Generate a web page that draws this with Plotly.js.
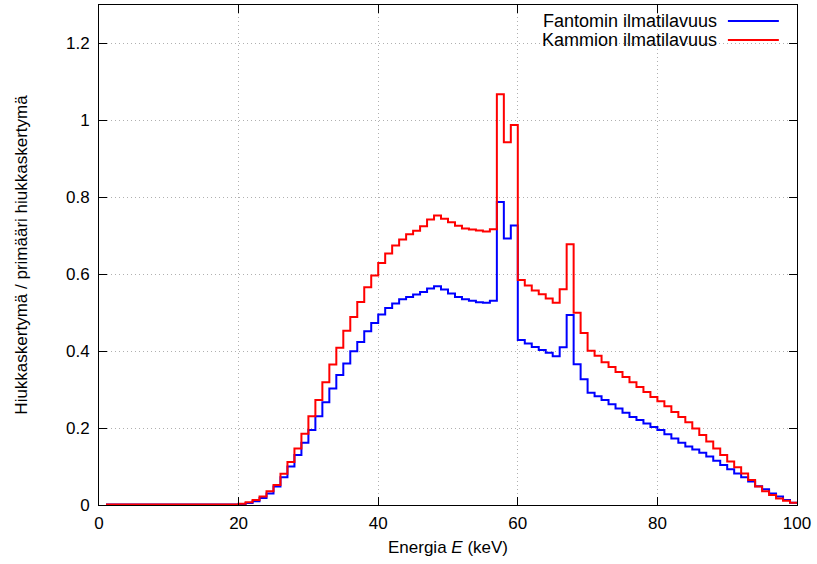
<!DOCTYPE html>
<html>
<head>
<meta charset="utf-8">
<script src="https://cdn.plot.ly/plotly-3.0.1.min.js"></script>
<style>html,body{margin:0;padding:0;background:#fff}#chart{width:817px;height:564px}</style>
</head>
<body>
<div id="chart"></div>
<script>
// Bin left edges (keV), bins are 1 keV wide, from 1 to 100 keV
const binStart = [];
for (let k = 1; k <= 99; k++) binStart.push(k);
const binEnd = 100;

const seriesNames = ["Fantomin ilmatilavuus", "Kammion ilmatilavuus"];

// Phantom air volume (blue), values for bins 1..99
const fantomin = [
  0.001,0.001,0.001,0.001,0.001,0.001,0.001,0.001,0.001,0.001,
  0.001,0.001,0.001,0.001,0.001,0.001,0.001,0.001,0.001,
  0.002,0.005,0.010,0.018,0.030,0.048,0.072,0.100,0.130,0.162,
  0.195,0.231,0.267,0.303,0.338,0.368,0.400,0.424,0.452,0.473,
  0.495,0.512,0.524,0.535,0.541,0.547,0.554,0.563,0.569,0.560,
  0.550,0.541,0.535,0.531,0.527,0.526,0.531,0.788,0.693,0.727,
  0.429,0.420,0.411,0.403,0.396,0.387,0.410,0.494,0.366,0.327,
  0.292,0.283,0.273,0.262,0.251,0.240,0.229,0.221,0.212,0.203,
  0.195,0.184,0.173,0.162,0.152,0.144,0.136,0.126,0.115,0.104,
  0.093,0.082,0.072,0.061,0.049,0.041,0.030,0.022,0.013,0.006
];

// Chamber air volume (red), values for bins 1..99
const kammion = [
  0.001,0.001,0.001,0.001,0.001,0.001,0.001,0.001,0.001,0.001,
  0.001,0.001,0.001,0.001,0.001,0.001,0.001,0.001,0.001,
  0.003,0.007,0.013,0.022,0.036,0.052,0.081,0.112,0.147,0.185,
  0.231,0.273,0.319,0.365,0.409,0.453,0.489,0.528,0.566,0.597,
  0.629,0.654,0.675,0.690,0.704,0.713,0.725,0.742,0.753,0.744,
  0.735,0.726,0.719,0.716,0.714,0.711,0.717,1.068,0.943,0.988,
  0.585,0.571,0.558,0.548,0.537,0.526,0.561,0.678,0.500,0.447,
  0.401,0.388,0.371,0.359,0.346,0.333,0.319,0.307,0.294,0.281,
  0.270,0.257,0.242,0.229,0.215,0.199,0.182,0.165,0.147,0.130,
  0.113,0.098,0.082,0.065,0.048,0.036,0.026,0.017,0.011,0.006
];

const xTicks = [0, 20, 40, 60, 80, 100];
const yTicks = [0, 0.2, 0.4, 0.6, 0.8, 1, 1.2];
const yTickText = ["0", "0.2", "0.4", "0.6", "0.8", "1", "1.2"];

function stepTrace(vals, color, name) {
  const x = binStart.concat([binEnd]);
  const y = vals.concat([vals[vals.length - 1]]);
  return {x: x, y: y, type: "scatter", mode: "lines", name: name,
    line: {shape: "hv", color: color, width: 2}, showlegend: false};
}

const FONT = "Liberation Sans, Arial, Helvetica, sans-serif";
const axisCommon = {
  showline: true, mirror: "ticks", linecolor: "#000", linewidth: 1,
  ticks: "inside", ticklen: 8, tickcolor: "#000", tickwidth: 1,
  showgrid: true, gridcolor: "#b0b0b0", griddash: "1px,3px", gridwidth: 1,
  zeroline: false, tickfont: {family: FONT, size: 17, color: "#000"}
};

const layout = {
  width: 817, height: 564,
  margin: {l: 99, r: 20, t: 5, b: 59},
  paper_bgcolor: "#fff", plot_bgcolor: "#fff",
  font: {family: FONT, size: 17, color: "#000"},
  xaxis: Object.assign({}, axisCommon, {
    range: [0, 100], tickvals: xTicks, ticktext: xTicks.map(String),
    ticklabelstandoff: 3,
    title: {text: "Energia <i>E</i> (keV)", font: {family: FONT, size: 17}, standoff: 8}
  }),
  yaxis: Object.assign({}, axisCommon, {
    range: [0, 1.3], tickvals: yTicks, ticktext: yTickText,
    ticklabelstandoff: 5,
    title: {text: "Hiukkaskertymä / primääri hiukkaskertymä", font: {family: FONT, size: 17}, standoff: 34}
  }),
  showlegend: false,
  shapes: [
    {type: "rect", xref: "paper", yref: "paper", x0: 0.56, x1: 0.99, y0: 0.9, y1: 0.986,
      fillcolor: "#fff", line: {width: 0}, layer: "between"},
    {type: "line", xref: "paper", yref: "paper", x0: 0.901, x1: 0.974, y0: 0.968, y1: 0.968,
      line: {color: "#0000ff", width: 2}},
    {type: "line", xref: "paper", yref: "paper", x0: 0.901, x1: 0.974, y0: 0.930, y1: 0.930,
      line: {color: "#ff0000", width: 2}}
  ],
  annotations: [
    {xref: "paper", yref: "paper", x: 0.888, y: 0.968, xanchor: "right", yanchor: "middle",
      text: seriesNames[0], showarrow: false, font: {family: FONT, size: 18, color: "#000"}},
    {xref: "paper", yref: "paper", x: 0.888, y: 0.930, xanchor: "right", yanchor: "middle",
      text: seriesNames[1], showarrow: false, font: {family: FONT, size: 18, color: "#000"}}
  ]
};

Plotly.newPlot("chart", [
  stepTrace(fantomin, "#0000ff", seriesNames[0]),
  stepTrace(kammion, "#ff0000", seriesNames[1])
], layout, {staticPlot: true, displayModeBar: false});
</script>
</body>
</html>
